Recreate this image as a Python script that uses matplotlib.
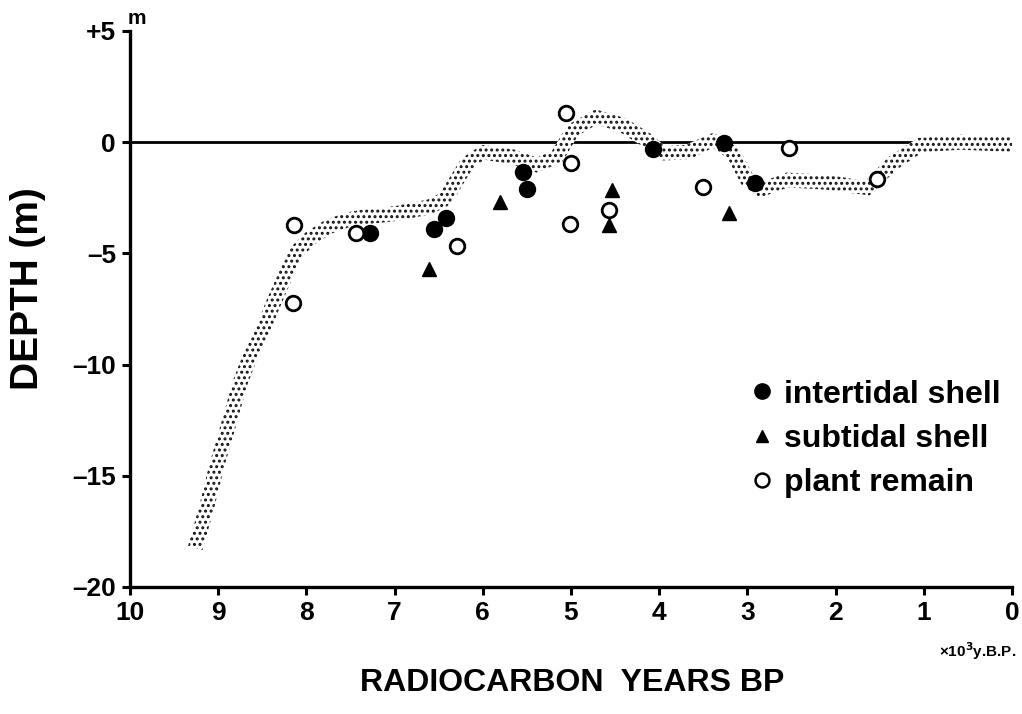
import numpy as np
import matplotlib
matplotlib.use("Agg")
import matplotlib.pyplot as plt
from matplotlib.patches import Polygon
from matplotlib.lines import Line2D

# ---------------- data ----------------
intertidal_x = [7.28, 6.55, 6.42, 5.54, 5.50, 4.07, 3.27, 2.91]
intertidal_y = [-4.09, -3.90, -3.42, -1.35, -2.10, -0.30, -0.05, -1.84]

subtidal_x = [6.61, 5.81, 4.53, 4.57, 3.21]
subtidal_y = [-5.68, -2.68, -2.16, -3.73, -3.20]

plant_x = [8.14, 8.15, 7.44, 6.29, 5.06, 5.00, 5.01, 4.57, 3.50, 2.53, 1.53]
plant_y = [-3.73, -7.25, -4.08, -4.66, 1.33, -0.93, -3.69, -3.06, -2.01, -0.24, -1.66]

band_x = [9.26, 9.13, 9.02, 8.89, 8.75, 8.61, 8.49, 8.38, 8.27, 8.13, 7.95, 7.75,
          7.54, 7.36, 6.97, 6.60, 6.45, 6.37, 6.18, 6.00, 5.66, 5.39, 5.16, 4.98,
          4.71, 4.41, 4.14, 3.96, 3.68, 3.39, 3.16, 3.00, 2.86, 2.55, 2.10, 1.64,
          1.35, 1.04, 0.59, 0.00]
band_y = [-18.25, -16.4, -14.6, -12.8, -10.8, -9.35, -8.4, -7.3, -6.3, -5.0, -4.3, -3.8,
          -3.5, -3.37, -3.2, -2.9, -2.6, -2.2, -0.96, -0.45, -0.66, -1.03, -0.66, 0.54,
          1.14, 0.76, 0.09, -0.5, -0.45, 0.09, -0.5, -1.7, -2.16, -1.7, -1.8, -2.07,
          -0.94, -0.13, 0.0, -0.1]

x_ticks = [10, 9, 8, 7, 6, 5, 4, 3, 2, 1, 0]
y_ticks = [5, 0, -5, -10, -15, -20]
y_ticklabels = ["+5", "0", "\u20135", "\u201310", "\u201315", "\u201320"]
legend_labels = ["intertidal shell", "subtidal shell", "plant remain"]

plt.rcParams["font.family"] = ["Liberation Sans", "DejaVu Sans"]
plt.rcParams["font.weight"] = "bold"
plt.rcParams["hatch.linewidth"] = 1.4

fig = plt.figure(figsize=(10.22, 7.14), dpi=100)
ax = fig.add_axes([130 / 1022, 1 - 587 / 714, (1012 - 130) / 1022, (587 - 31) / 714])
ax.set_xlim(10, 0)
ax.set_ylim(-20, 5)

for s in ["top", "right"]:
    ax.spines[s].set_visible(False)
for s in ["left", "bottom"]:
    ax.spines[s].set_linewidth(2.4)

ax.set_xticks(x_ticks)
ax.set_xticklabels([str(t) for t in x_ticks], fontweight="bold", fontsize=19)
ax.set_yticks(y_ticks)
ax.set_yticklabels(y_ticklabels, fontweight="bold", fontsize=19)
ax.tick_params(axis="both", direction="out", length=6, width=2.2, pad=4)

# zero line
ax.plot([10, 0], [0, 0], color="black", lw=2.0, zorder=2, solid_capstyle="butt")

# stippled band built around its centre line in display space
fig.canvas.draw()
pts = ax.transData.transform(np.column_stack([band_x, band_y]))
d = np.gradient(pts, axis=0)
n = np.column_stack([-d[:, 1], d[:, 0]])
n /= np.linalg.norm(n, axis=1)[:, None]
half = 7.5
upper = pts + n * half
lower = pts - n * half
poly_disp = np.vstack([upper, lower[::-1]])
poly_data = ax.transData.inverted().transform(poly_disp)
band = Polygon(poly_data, closed=True, facecolor="white", edgecolor="#111111",
               linewidth=0, hatch="...", zorder=3)
ax.add_patch(band)

ax.plot(intertidal_x, intertidal_y, "o", color="black", ms=11.5, zorder=5)
ax.plot(subtidal_x, subtidal_y, "^", color="black", ms=10.5, zorder=5)
ax.plot(plant_x, plant_y, "o", mfc="white", mec="black", mew=2.0, ms=10.5, zorder=5)

handles = [
    Line2D([], [], ls="none", marker="o", color="black", ms=11),
    Line2D([], [], ls="none", marker="^", color="black", ms=8.5),
    Line2D([], [], ls="none", marker="o", mfc="white", mec="black", mew=1.8, ms=10),
]
leg = ax.legend(handles, legend_labels, loc="center left",
                bbox_to_anchor=((752 - 130) / 882, (587 - 439) / 556),
                frameon=False, prop={"size": 23, "weight": "bold"},
                borderaxespad=0, borderpad=0,
                handlelength=0.6, handletextpad=0.4, labelspacing=0.45)

# labels
fig.text(28 / 1022, 1 - 289 / 714, "DEPTH (m)", rotation=90, ha="center", va="center",
         fontsize=28, fontweight="bold")
fig.text(572 / 1022, 1 - 683 / 714, "RADIOCARBON  YEARS BP", ha="center", va="center",
         fontsize=23, fontweight="bold")
fig.text(1016 / 1022, 1 - 651 / 714, "\u00d710$^3$y.B.P.", ha="right", va="center",
         fontsize=11, fontweight="bold")
fig.text(128 / 1022, 1 - 18 / 714, "m", ha="left", va="center", fontsize=15, fontweight="bold")

fig.savefig("out.png", dpi=100)
